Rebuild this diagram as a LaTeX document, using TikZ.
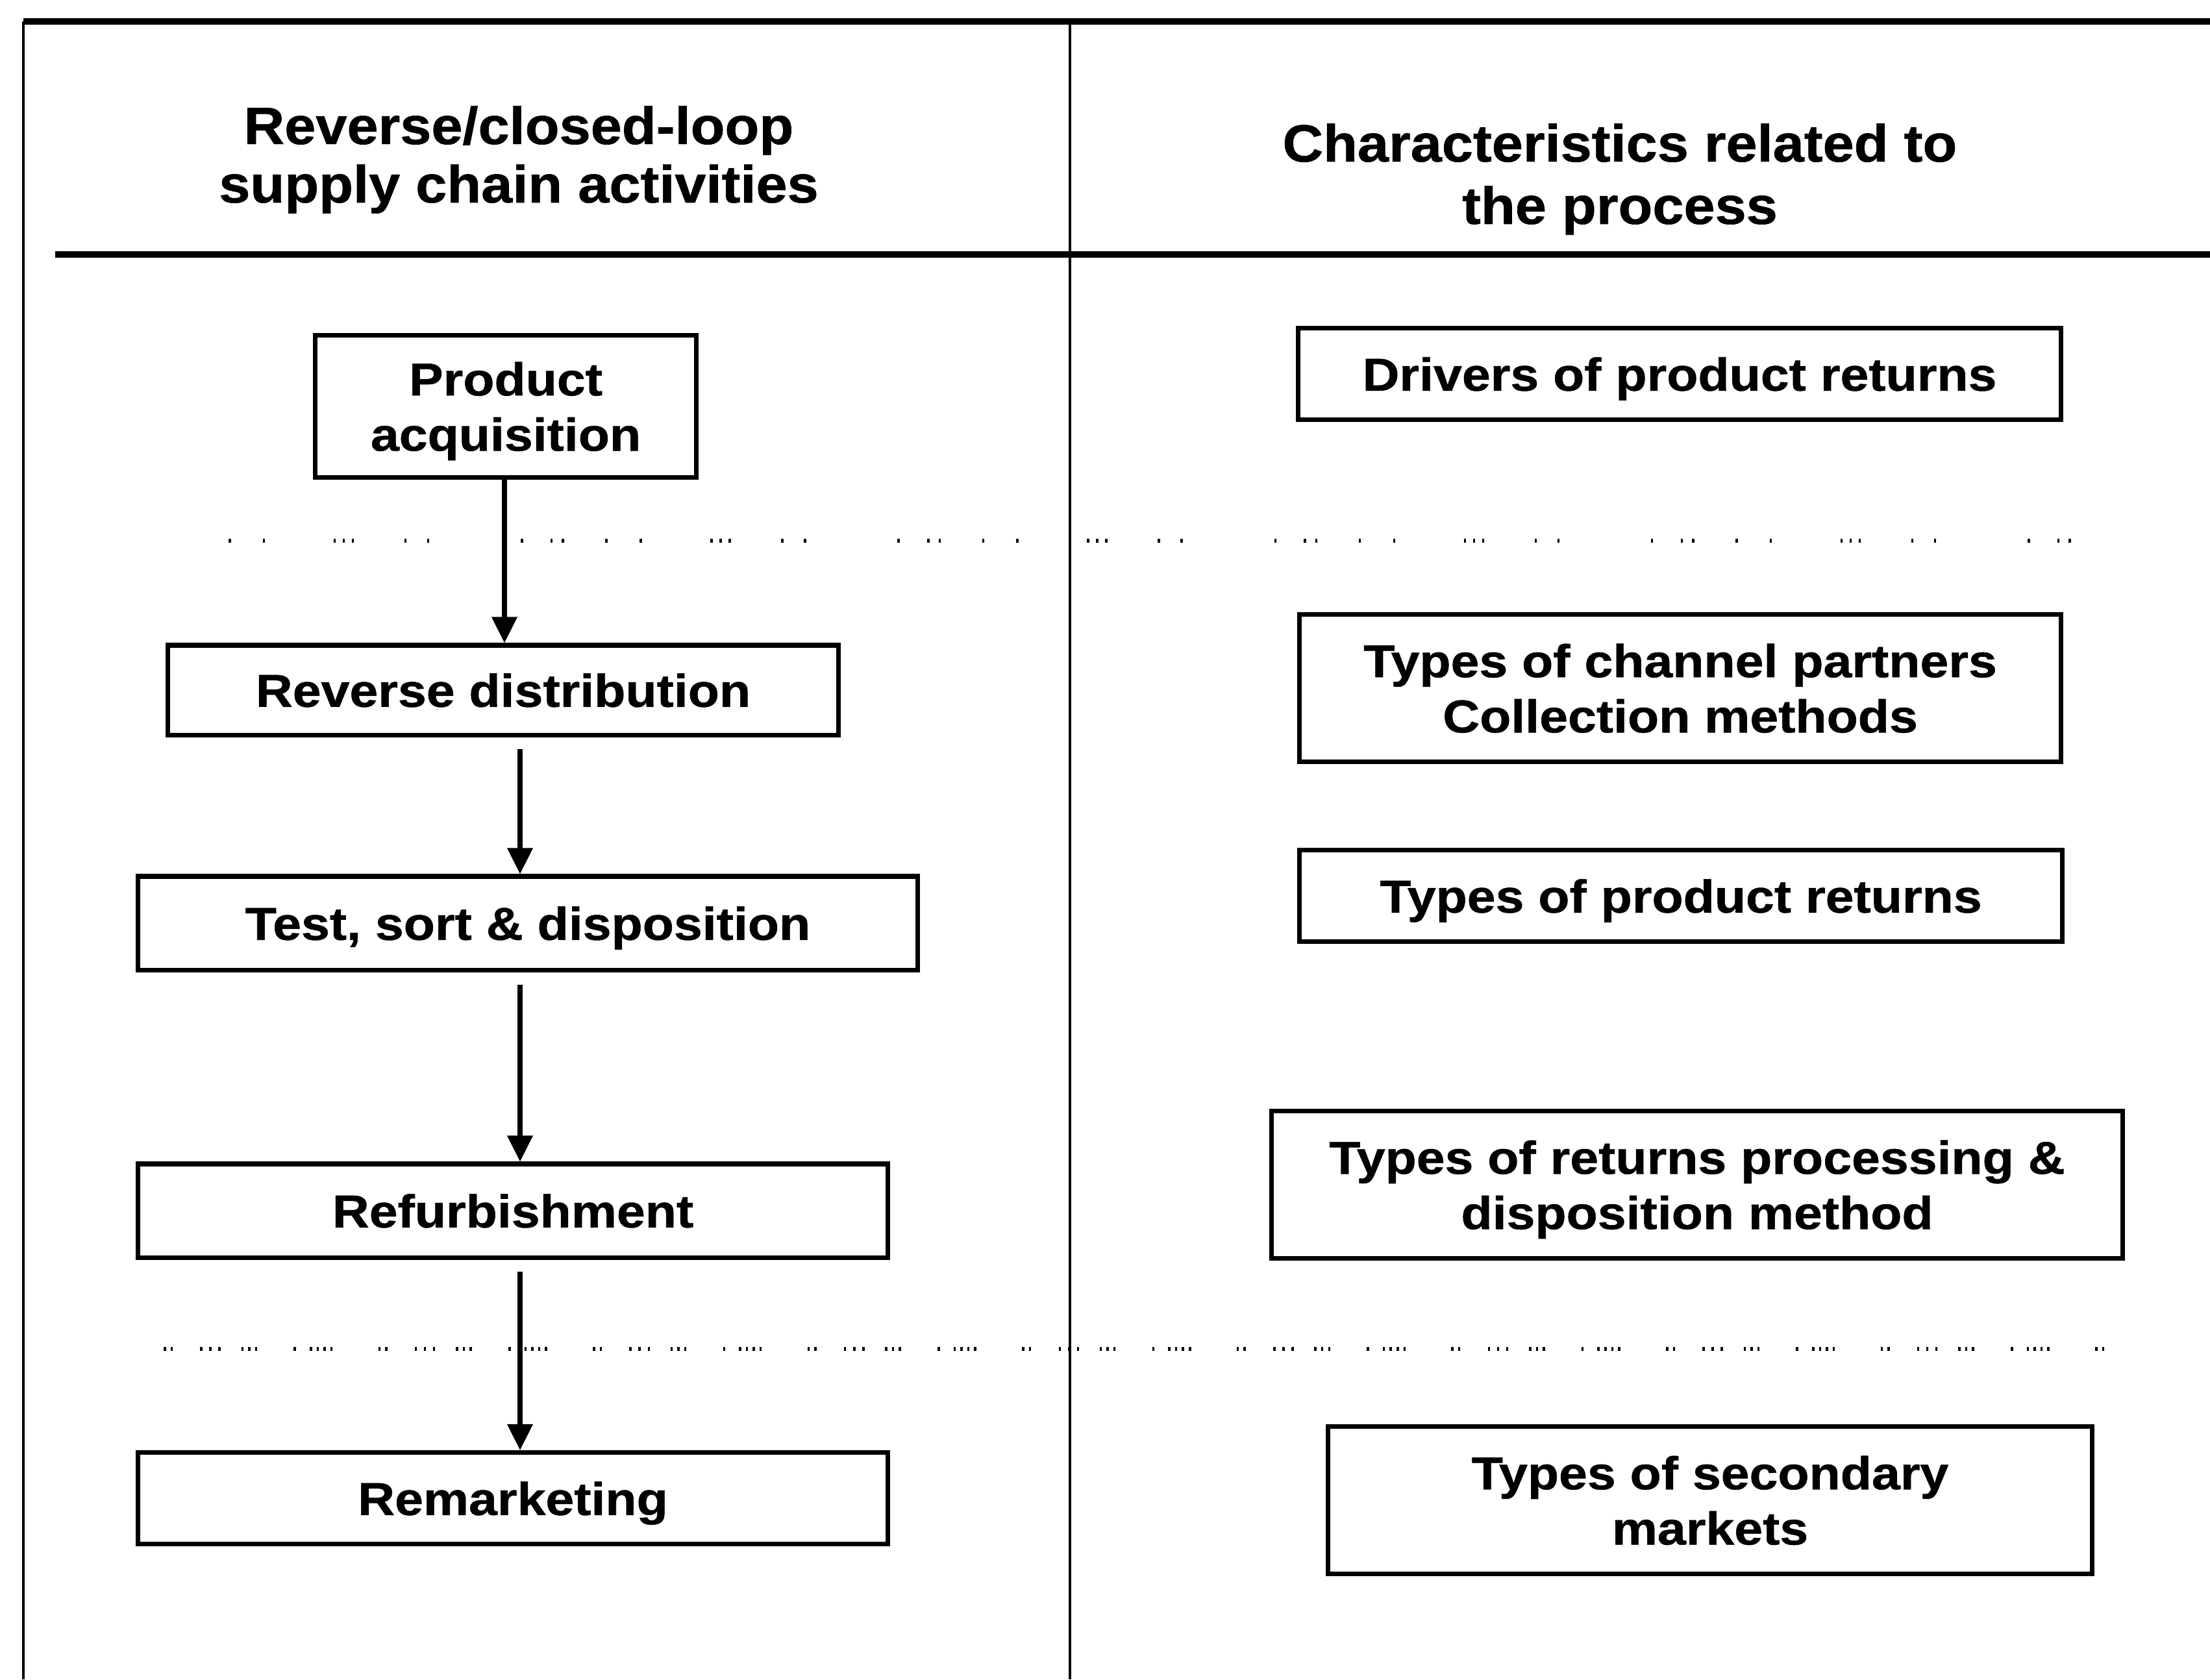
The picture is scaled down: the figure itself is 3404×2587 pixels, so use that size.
\documentclass[tikz,border=0pt]{standalone}
\usepackage{fontspec}
\setmainfont{Liberation Sans}
\newfontfamily\headfont[FakeStretch=1.07, FakeBold=0.8]{Liberation Sans}
\newfontfamily\boxfont[FakeStretch=1.11, FakeBold=0.8]{Liberation Sans}
\usetikzlibrary{arrows.meta}

\begin{document}
\begin{tikzpicture}[x=0.01cm, y=-0.01cm,
  frameh/.style={line width=2.6pt},
  framev/.style={line width=1.4pt},
  stage/.style={draw, line width=2pt, inner sep=0pt, align=center, text depth=0pt,
    font=\boxfont\bfseries\fontsize{20.2}{24.2}\selectfont},
  flow/.style={line width=2pt, -{Triangle[length=0.4cm, width=0.38cm]}},
  sep/.style={line width=1.8pt},
  head/.style={align=center, inner sep=0pt}]

  \useasboundingbox (0,0) rectangle (3404,2587);

  % table frame
  \coordinate (tl) at (36,33);
  \coordinate (tr) at (3404,33);
  \coordinate (bl) at (36,2587);
  \coordinate (dt) at (1648,33);
  \coordinate (db) at (1648,2587);
  \coordinate (hl) at (85,392);
  \coordinate (hr) at (3404,392);
  \draw[frameh] (tl) -- (tr);
  \draw[frameh] (hl) -- (hr);
  \draw[framev] (tl) -- (bl);
  \draw[framev] (dt) -- (db);

  % column headings
  \node[head, font=\headfont\bfseries\fontsize{23}{25.6}\selectfont] (hleft) at (799,246)
    {Reverse/closed-loop\\supply chain activities};
  \node[head, font=\headfont\bfseries\fontsize{23}{27.3}\selectfont] (hright) at (2495,276)
    {Characteristics related to\\the process};

  % broken dotted separators
  \coordinate (s1a) at (352,833);
  \coordinate (s1b) at (3250,833);
  \coordinate (s2a) at (252,2078);
  \coordinate (s2b) at (3252,2078);
  \draw[sep, dash pattern=on 1pt off 14pt on 1pt off 30pt on 1pt off 3pt on 1pt off 3pt
    on 1pt off 22pt on 1pt off 9pt on 1pt off 40pt on 1pt off 12pt on 1pt off 4pt
    on 1pt off 18pt] (s1a) -- (s1b);
  \draw[sep, dash pattern=on 1pt off 2pt on 1pt off 12pt on 1pt off 3pt on 1pt off 3pt
    on 1pt off 9pt on 1pt off 2pt on 1pt off 2pt on 1pt off 16pt on 1pt off 6pt
    on 1pt off 2pt on 1pt off 2pt on 1pt off 2pt on 1pt off 20pt] (s2a) -- (s2b);

  % activities
  \node[stage, minimum width=5.86cm, minimum height=2.19cm] (pa) at (779,626)
    {Product\\acquisition};
  \node[stage, minimum width=10.33cm, minimum height=1.38cm] (rd) at (775,1063)
    {Reverse distribution};
  \node[stage, minimum width=12.00cm, minimum height=1.44cm] (tsd) at (813,1422)
    {Test, sort \& disposition};
  \node[stage, minimum width=11.55cm, minimum height=1.44cm] (rf) at (790,1865)
    {Refurbishment};
  \node[stage, minimum width=11.55cm, minimum height=1.41cm] (rm) at (790,2308)
    {Remarketing};

  % characteristics
  \node[stage, minimum width=11.74cm, minimum height=1.41cm] (dr) at (2587,576)
    {Drivers of product returns};
  \node[stage, minimum width=11.72cm, minimum height=2.26cm] (cp) at (2588,1060)
    {Types of channel partners\\Collection methods};
  \node[stage, minimum width=11.74cm, minimum height=1.41cm] (pr) at (2589,1380)
    {Types of product returns};
  \node[stage, minimum width=13.11cm, minimum height=2.26cm] (pd) at (2614,1825)
    {Types of returns processing \&\\disposition method};
  \node[stage, minimum width=11.77cm, minimum height=2.26cm] (sm) at (2634,2311)
    {Types of secondary\\markets};

  % flow arrows
  \coordinate (ax1) at (777,0);
  \coordinate (ax2) at (801,0);
  \draw[flow] (pa.south -| ax1) -- (rd.north -| ax1);
  \draw[flow, shorten <=0.18cm] (rd.south -| ax2) -- (tsd.north -| ax2);
  \draw[flow, shorten <=0.19cm] (tsd.south -| ax2) -- (rf.north -| ax2);
  \draw[flow, shorten <=0.18cm] (rf.south -| ax2) -- (rm.north -| ax2);
\end{tikzpicture}
\end{document}
